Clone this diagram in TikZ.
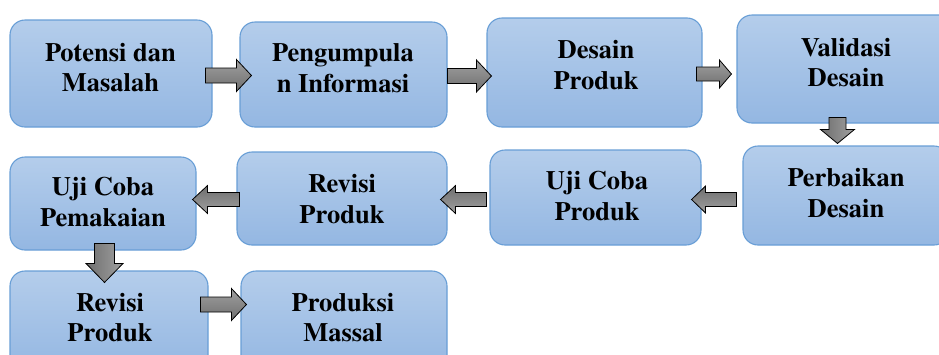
\documentclass[tikz,border=0pt]{standalone}
\usepackage{fontspec}
\setmainfont{texgyretermes}[Extension=.otf, UprightFont=*-regular, BoldFont=*-bold]
\usetikzlibrary{calc}
\definecolor{boxtop}{RGB}{180,205,235}
\definecolor{boxbot}{RGB}{148,183,226}
\definecolor{boxline}{RGB}{104,158,214}
\definecolor{arrtop}{RGB}{160,160,160}
\definecolor{arrbot}{RGB}{110,110,110}
\tikzset{
  box/.style={draw=boxline, line width=1.1pt, rounded corners=15pt,
    top color=boxtop, bottom color=boxbot, inner sep=0pt},
  txt/.style={align=center, inner sep=0pt,
    font=\bfseries\fontsize{26.5}{30.5}\selectfont},
  blockarrow/.style={draw=black, line width=0.8pt, line join=miter,
    top color=arrtop, bottom color=arrbot}
}
% #1 from, #2 to, #3 shaft half width, #4 head half width, #5 head length, #6 shading angle
\newcommand\barrow[6]{%
  \path[blockarrow, shading angle=#6]
    ($(#1)!#3pt!90:(#2)$) --
    ($($(#2)!#5pt!(#1)$)!#3pt!90:(#2)$) --
    ($($(#2)!#5pt!(#1)$)!#4pt!90:(#2)$) --
    (#2) --
    ($($(#2)!#5pt!(#1)$)!#4pt!-90:(#2)$) --
    ($($(#2)!#5pt!(#1)$)!#3pt!-90:(#2)$) --
    ($(#1)!#3pt!-90:(#2)$) -- cycle;}
\begin{document}
\begin{tikzpicture}[x=1pt,y=-1pt]
\useasboundingbox (0,0) rectangle (939,354);
\clip (0,0) rectangle (939,354);
% boxes
\node[box, minimum width=202pt, minimum height=107pt] (b1) at (111,73.5) {};
\node[box, minimum width=207pt, minimum height=105pt] (b2) at (343.5,74.5) {};
\node[box, minimum width=215pt, minimum height=109pt] (b3) at (594.5,72.5) {};
\node[box, minimum width=218pt, minimum height=108pt] (b4) at (846,69) {};
\node[box, minimum width=206pt, minimum height=99pt] (b5) at (846,195.5) {};
\node[box, minimum width=211pt, minimum height=95pt] (b6) at (595.5,197.5) {};
\node[box, minimum width=210pt, minimum height=93pt] (b7) at (342,198.5) {};
\node[box, minimum width=186pt, minimum height=93pt] (b8) at (103,203.5) {};
\node[box, minimum width=198pt, minimum height=100pt] (b9) at (109,321) {};
\node[box, minimum width=206pt, minimum height=100pt] (b10) at (344,321) {};
% texts
\node[txt] (t1) at (110.5,67.5) {Potensi dan\\Masalah};
\node[txt] (t2) at (343,68) {Pengumpula\\n Informasi};
\node[txt] (t3) at (596,65) {Desain\\Produk};
\node[txt] (t4) at (846,62.5) {Validasi\\Desain};
\node[txt] (t5) at (846,193) {Perbaikan\\Desain};
\node[txt] (t6) at (597,196) {Uji Coba\\Produk};
\node[txt] (t7) at (342,199) {Revisi\\Produk};
\node[txt] (t8) at (103,202) {Uji Coba\\Pemakaian};
\node[txt] (t9) at (110,317.5) {Revisi\\Produk};
\node[txt] (t10) at (343,317.5) {Produksi\\Massal};
% arrow ends
\coordinate (a1s) at ($(b1.east)+(-7,2)$);
\coordinate (a1e) at ($(b2.west|-a1s)+(12,0)$);
\coordinate (a2s) at ($(b2.east)+(0,1.5)$);
\coordinate (a2e) at ($(b3.west|-a2s)+(5,0)$);
\coordinate (a3s) at ($(b3.east)+(-6,1.5)$);
\coordinate (a3e) at ($(b4.west|-a3s)+(-5,0)$);
\coordinate (a4s) at ($(b4.south)+(-8.5,-6)$);
\coordinate (a4e) at ($(b5.north-|a4s)+(0,-2)$);
\coordinate (a5s) at ($(b5.west)+(-6,4)$);
\coordinate (a5e) at ($(b6.east|-a5s)+(-10,0)$);
\coordinate (a6s) at ($(b6.west)+(-3,2)$);
\coordinate (a6e) at ($(b7.east|-a6s)+(-7,0)$);
\coordinate (a7s) at ($(b7.west)+(3,1)$);
\coordinate (a7e) at ($(b8.east|-a7s)+(-4,0)$);
\coordinate (a8s) at ($(b8.south)+(1.5,-7)$);
\coordinate (a8e) at ($(b9.north-|a8s)+(0,12)$);
\coordinate (a9s) at ($(b9.east)+(-8,-16.5)$);
\coordinate (a9e) at ($(b10.west|-a9s)+(6,0)$);
% block arrows
\barrow{a1s}{a1e}{7.5}{16}{15}{0}
\barrow{a2s}{a2e}{7.5}{16}{15}{0}
\barrow{a3s}{a3e}{7}{14}{12}{0}
\barrow{a4s}{a4e}{8.5}{17}{14}{-90}
\barrow{a5s}{a5e}{7}{13.5}{14}{180}
\barrow{a6s}{a6e}{7}{14}{15}{180}
\barrow{a7s}{a7e}{7}{14}{15}{180}
\barrow{a8s}{a8e}{10}{18.5}{19}{-90}
\barrow{a9s}{a9e}{7.5}{16}{15}{0}
\end{tikzpicture}
\end{document}
